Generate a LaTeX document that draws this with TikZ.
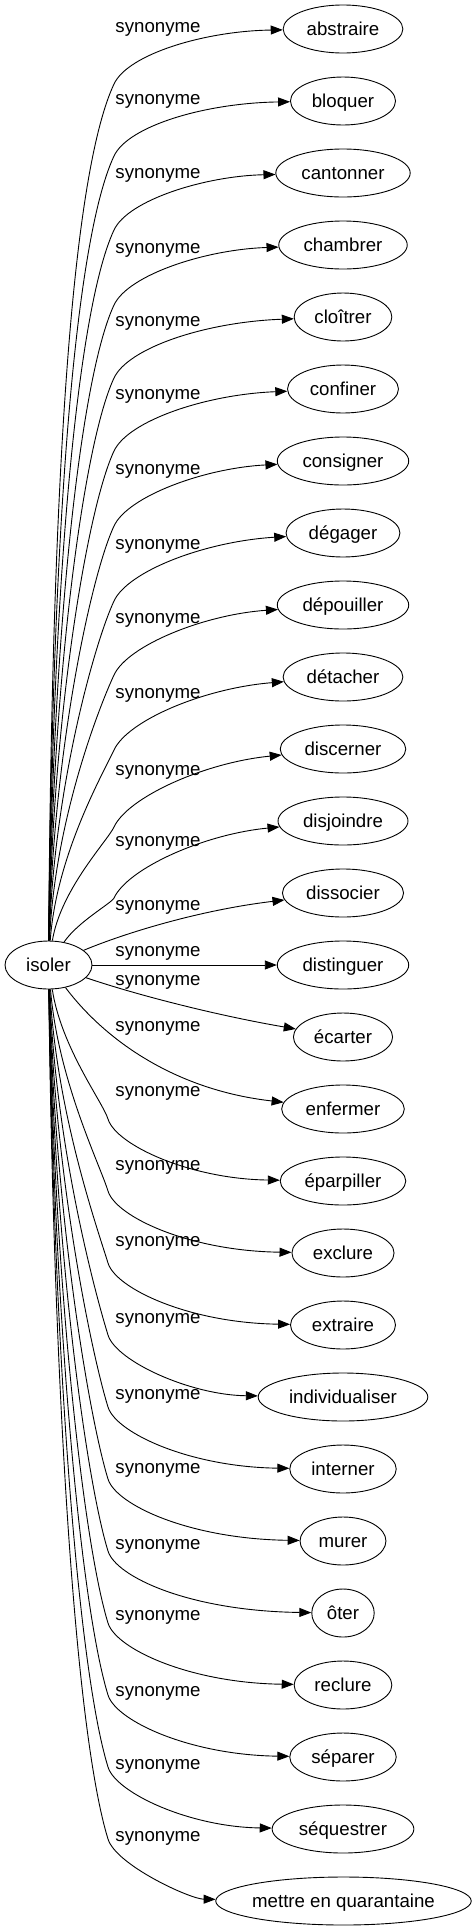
\documentclass[tikz,border=0pt]{standalone}
\usepackage{fontspec}
\setmainfont{Liberation Sans}
\usetikzlibrary{arrows.meta,shapes.geometric}

\tikzset{
  word/.style={draw, ellipse, line width=0.9pt, minimum height=48pt,
    inner xsep=6pt, inner ysep=2pt, text height=13.5pt, text depth=1.5pt,
    font=\fontsize{18.67}{22}\selectfont},
  lab/.style={inner sep=0pt, text height=11.2pt, text depth=3.9pt,
    font=\fontsize{18.67}{22}\selectfont},
  syn/.style={line width=0.9pt, -{Triangle[length=12pt,width=9pt]}}
}

\begin{document}
\begin{tikzpicture}[x=1pt,y=-1pt]

% edge going up: target, target y, label y
\def\SYNUP#1#2#3{%
  \pgfmathsetmacro\BENDY{#3+55}
  \pgfmathsetmacro\RISE{941-\BENDY}
  \pgfmathsetmacro\ONEX{50+1200/\RISE}
  \pgfmathsetmacro\ONEY{941-0.45*\RISE}
  \pgfmathsetmacro\KK{\RISE/250}
  \pgfmathsetmacro\TWOX{114-14*\KK}
  \pgfmathsetmacro\TWOY{\BENDY+30*\KK}
  \pgfmathsetmacro\THREEY{#3+25}
  \pgfmathsetmacro\FOURY{(#2+#3)/2+2}
  \draw[syn] (isoler) .. controls (\ONEX,\ONEY) and (\TWOX,\TWOY) .. (114,\BENDY)
    .. controls (128,\THREEY) and (205,\FOURY) .. (#1);
  \node[lab] (lab-#1) at (158,#3) {synonyme};
}
% edge going down: target, target y, label y
\def\SYNDOWN#1#2#3{%
  \pgfmathsetmacro\BENDY{#2-62}
  \pgfmathsetmacro\RISE{\BENDY-989}
  \pgfmathsetmacro\ONEX{52+1200/\RISE}
  \pgfmathsetmacro\ONEY{989+0.45*\RISE}
  \pgfmathsetmacro\KK{\RISE/200}
  \pgfmathsetmacro\TWOX{108-8*\KK}
  \pgfmathsetmacro\TWOY{\BENDY-26*\KK}
  \pgfmathsetmacro\THREEY{#2-36}
  \pgfmathsetmacro\FOURY{#2-2}
  \draw[syn] (isoler) .. controls (\ONEX,\ONEY) and (\TWOX,\TWOY) .. (108,\BENDY)
    .. controls (116,\THREEY) and (190,\FOURY) .. (#1);
  \node[lab] (lab-#1) at (158,#3) {synonyme};
}

\useasboundingbox (0,0) rectangle (475,1931);

\node[word, minimum width=87pt] (isoler) at (48.5,965) {isoler};

\node[word] (abstraire) at (343,29) {abstraire};
\node[word] (bloquer) at (343,101) {bloquer};
\node[word] (cantonner) at (343,173) {cantonner};
\node[word] (chambrer) at (343,245) {chambrer};
\node[word] (cloitrer) at (343,317) {cloîtrer};
\node[word] (confiner) at (343,389) {confiner};
\node[word] (consigner) at (343,461) {consigner};
\node[word] (degager) at (343,533) {dégager};
\node[word] (depouiller) at (343,605) {dépouiller};
\node[word] (detacher) at (343,677) {détacher};
\node[word] (discerner) at (343,749) {discerner};
\node[word] (disjoindre) at (343,821) {disjoindre};
\node[word] (dissocier) at (343,893) {dissocier};
\node[word] (distinguer) at (343,965) {distinguer};
\node[word] (ecarter) at (343,1037) {écarter};
\node[word] (enfermer) at (343,1109) {enfermer};
\node[word] (eparpiller) at (343,1181) {éparpiller};
\node[word] (exclure) at (343,1253) {exclure};
\node[word] (extraire) at (343,1325) {extraire};
\node[word] (individualiser) at (343,1397) {individualiser};
\node[word] (interner) at (343,1469) {interner};
\node[word] (murer) at (343,1541) {murer};
\node[word] (oter) at (343,1613) {ôter};
\node[word] (reclure) at (343,1685) {reclure};
\node[word] (separer) at (343,1757) {séparer};
\node[word] (sequestrer) at (343,1829) {séquestrer};
\node[word, inner xsep=-1pt] (quarantaine) at (343.5,1901) {mettre en quarantaine};

\SYNUP{abstraire}{29}{29}
\SYNUP{bloquer}{101}{101}
\SYNUP{cantonner}{173}{175}
\SYNUP{chambrer}{245}{250}
\SYNUP{cloitrer}{317}{323}
\SYNUP{confiner}{389}{396}
\SYNUP{consigner}{461}{471}
\SYNUP{degager}{533}{546}
\SYNUP{depouiller}{605}{620}
\SYNUP{detacher}{677}{695}
\SYNUP{discerner}{749}{772}
\SYNUP{disjoindre}{821}{843}

\draw[syn] (isoler) .. controls (125,933) and (200,910) .. (dissocier);
\node[lab] (lab-dissocier) at (158,907) {synonyme};
\draw[syn] (isoler) -- (distinguer);
\node[lab] (lab-distinguer) at (158,953) {synonyme};
\draw[syn] (isoler) .. controls (140,996) and (220,1016) .. (ecarter);
\node[lab] (lab-ecarter) at (158,982) {synonyme};
\draw[syn] (isoler) .. controls (105,1040) and (175,1090) .. (enfermer);
\node[lab] (lab-enfermer) at (158,1028) {synonyme};

\SYNDOWN{eparpiller}{1181}{1093}
\SYNDOWN{exclure}{1253}{1167}
\SYNDOWN{extraire}{1325}{1243}
\SYNDOWN{individualiser}{1397}{1320}
\SYNDOWN{interner}{1469}{1396}
\SYNDOWN{murer}{1541}{1470}
\SYNDOWN{oter}{1613}{1546}
\SYNDOWN{reclure}{1685}{1617}
\SYNDOWN{separer}{1757}{1693}
\SYNDOWN{sequestrer}{1829}{1766}
\SYNDOWN{quarantaine}{1901}{1838}

\end{tikzpicture}
\end{document}
